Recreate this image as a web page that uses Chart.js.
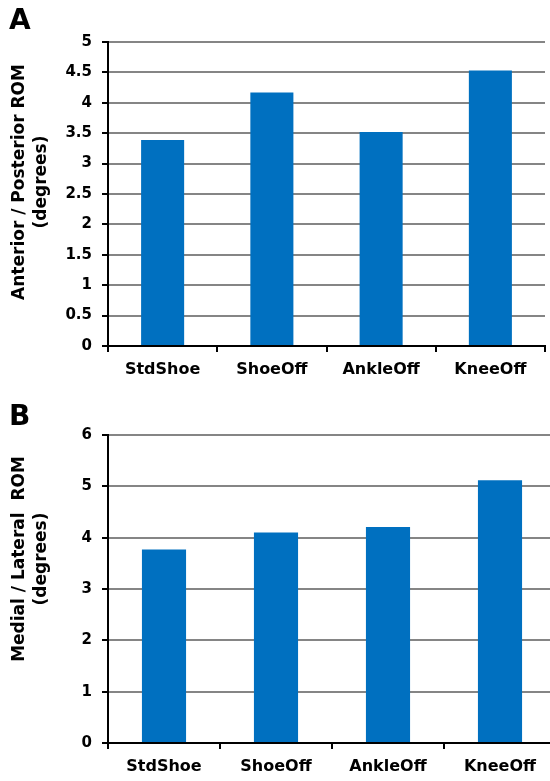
<!DOCTYPE html>
<html>
<head>
<meta charset="utf-8">
<script src="https://cdn.jsdelivr.net/npm/chart.js@4/dist/chart.umd.min.js"></script>
<style>
  html, body { margin: 0; padding: 0; background: #fff; overflow: hidden; }
  #wrap { position: relative; width: 550px; height: 781px; overflow: hidden; }
  .panel { position: absolute; left: 9px; font: bold 28px "DejaVu Sans"; line-height: 28px; color: #000; }
  #boxA { position: absolute; left: 0; top: 0; }
  #boxB { position: absolute; left: 0; top: 390px; }
</style>
</head>
<body>
<div id="wrap">
  <div id="boxA"><canvas id="chartA" width="550" height="390"></canvas></div>
  <div id="boxB"><canvas id="chartB" width="560" height="391"></canvas></div>
  <div class="panel" style="top:6px">A</div>
  <div class="panel" style="top:402px">B</div>
</div>
<script>
const categories = ['StdShoe', 'ShoeOff', 'AnkleOff', 'KneeOff'];
const apValues = [3.39, 4.17, 3.52, 4.53];   // anterior / posterior ROM
const mlValues = [3.77, 4.10, 4.21, 5.12];   // medial / lateral ROM
const apTicks = { min: 0, max: 5, step: 0.5 };
const mlTicks = { min: 0, max: 6, step: 1 };

const barBlue = '#0070c0';
const gridGrey = '#858585';

// y-axis title, two rotated lines, sits a bit above the plot centre in the original
const yTitle = {
  id: 'yTitle',
  afterDraw(chart, args, opts) {
    const { ctx, chartArea } = chart;
    const cy = (chartArea.top + chartArea.bottom) / 2 + opts.shift;
    ctx.save();
    ctx.font = 'bold 17px "DejaVu Sans"';
    ctx.fillStyle = '#000';
    ctx.textAlign = 'center';
    ctx.textBaseline = 'middle';
    opts.lines.forEach((line, i) => {
      ctx.save();
      ctx.translate(opts.x[i], cy);
      ctx.rotate(-Math.PI / 2);
      ctx.fillText(line, 0, 0);
      ctx.restore();
    });
    ctx.restore();
  }
};

function makeChart(id, values, ticks, titleLines, shift, padding) {
  return new Chart(document.getElementById(id), {
    type: 'bar',
    data: {
      labels: categories,
      datasets: [{
        data: values,
        backgroundColor: barBlue,
        borderWidth: 0,
        barPercentage: 0.394,
        categoryPercentage: 1
      }]
    },
    options: {
      responsive: false,
      animation: false,
      layout: { padding },
      plugins: {
        legend: { display: false },
        tooltip: { enabled: false },
        yTitle: { lines: titleLines, x: [20, 42], shift }
      },
      scales: {
        x: {
          afterFit: s => { s.height = 38; },
          grid: {
            display: true, drawOnChartArea: false, drawTicks: true,
            tickLength: 6, color: '#000', lineWidth: 2
          },
          border: { display: true, color: '#000', width: 2 },
          ticks: { color: '#000', padding: 8, font: { family: 'DejaVu Sans', size: 16, weight: 'bold' } }
        },
        y: {
          min: ticks.min,
          max: ticks.max,
          afterFit: s => { s.width = 108; },
          grid: { color: gridGrey, lineWidth: 2, tickColor: '#000', tickLength: 6 },
          border: { display: true, color: '#000', width: 2 },
          ticks: {
            stepSize: ticks.step,
            color: '#000',
            padding: 10,
            font: { family: 'DejaVu Sans', size: 15, weight: 'bold' },
            callback: v => String(v)
          }
        }
      }
    },
    plugins: [yTitle]
  });
}

makeChart('chartA', apValues, apTicks, ['Anterior / Posterior ROM', '(degrees)'], -12,
  { top: 42, right: 5, bottom: 6, left: 0 });
makeChart('chartB', mlValues, mlTicks, ['Medial / Lateral  ROM', '(degrees)'], -30,
  { top: 45, right: 4, bottom: 0, left: 0 });
</script>
</body>
</html>
